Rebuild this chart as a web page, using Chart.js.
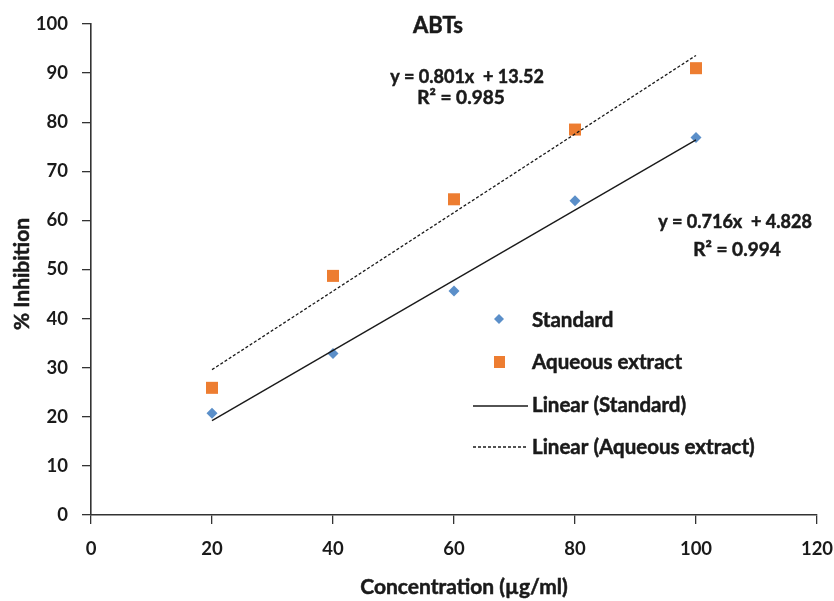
<!DOCTYPE html>
<html>
<head>
<meta charset="utf-8">
<script src="https://cdn.jsdelivr.net/npm/chart.js@4"></script>
<style>
  html, body { margin: 0; padding: 0; background: #fff; }
  #wrap { width: 834px; height: 601px; }
</style>
</head>
<body>
<div id="wrap"><canvas id="myChart" width="834" height="601"></canvas></div>
<script>
const concentrations = [20, 40, 60, 80, 100];
const standardValues = [20.7, 32.9, 45.6, 64.0, 76.9];
const aqueousValues = [25.9, 48.7, 64.3, 78.5, 91.0];

// trendline end points
const trendX = [20, 100];
const standardFit = [19.2, 76.4];
const aqueousFit = [29.6, 93.6];

const xTicks = [0, 20, 40, 60, 80, 100, 120];
const yTicks = [0, 10, 20, 30, 40, 50, 60, 70, 80, 90, 100];

const FONT = "Lato";
const blue = "#5b8fc9";
const orange = "#ed7d31";
const ink = "#1a1a1a";

function pts(xs, ys) {
  return xs.map((x, i) => ({ x: x, y: ys[i] }));
}

// draws text a bit heavier, closer to the bold face of the original
function boldText(ctx, s, x, y) {
  ctx.fillText(s, x, y);
  ctx.strokeText(s, x, y);
}

const textPlugin = {
  id: "texts",
  afterDraw(chart) {
    const ctx = chart.ctx;
    ctx.save();
    ctx.fillStyle = ink;
    ctx.strokeStyle = ink;
    ctx.lineWidth = 0.5;
    ctx.textBaseline = "middle";
    ctx.textAlign = "center";

    ctx.font = "bold 22px " + FONT;
    boldText(ctx, "ABTs", 438, 26);

    ctx.font = "bold 18px " + FONT;
    boldText(ctx, "y = 0.801x  + 13.52", 467, 77);
    boldText(ctx, "y = 0.716x  + 4.828", 735, 222);
    ctx.font = "bold 19px " + FONT;
    boldText(ctx, "R\u00b2 = 0.985", 461, 98);
    boldText(ctx, "R\u00b2 = 0.994", 737, 250);

    // axis titles
    ctx.font = "bold 21px " + FONT;
    boldText(ctx, "Concentration (\u00b5g/ml)", 464, 587);
    ctx.save();
    ctx.translate(22, 274);
    ctx.rotate(-Math.PI / 2);
    boldText(ctx, "% Inhibition", 0, 0);
    ctx.restore();

    // legend
    ctx.font = "bold 20.5px " + FONT;
    ctx.textAlign = "left";
    const tx = 532;
    boldText(ctx, "Standard", tx, 320);
    boldText(ctx, "Aqueous extract", tx, 362);
    boldText(ctx, "Linear (Standard)", tx, 405);
    boldText(ctx, "Linear (Aqueous extract)", tx, 447);

    ctx.fillStyle = blue;
    ctx.beginPath();
    ctx.moveTo(499, 314); ctx.lineTo(504, 319); ctx.lineTo(499, 324); ctx.lineTo(494, 319);
    ctx.closePath();
    ctx.fill();
    ctx.fillStyle = orange;
    ctx.fillRect(494, 356, 11, 12);

    ctx.lineWidth = 1.3;
    ctx.beginPath();
    ctx.moveTo(473, 406); ctx.lineTo(528, 406);
    ctx.stroke();
    ctx.setLineDash([3, 2]);
    ctx.beginPath();
    ctx.moveTo(473, 447); ctx.lineTo(528, 447);
    ctx.stroke();
    ctx.restore();
  }
};

const data = {
  datasets: [
    {
      type: "line",
      label: "Linear (Standard)",
      data: pts(trendX, standardFit),
      borderColor: ink,
      borderWidth: 1.4,
      pointRadius: 0,
      fill: false,
    },
    {
      type: "line",
      label: "Linear (Aqueous extract)",
      data: pts(trendX, aqueousFit),
      borderColor: ink,
      borderWidth: 1.3,
      borderDash: [3, 2],
      pointRadius: 0,
      fill: false,
    },
    {
      type: "scatter",
      label: "Standard",
      data: pts(concentrations, standardValues),
      pointStyle: "rectRot",
      pointRadius: 5.5,
      backgroundColor: blue,
      borderColor: blue,
      borderWidth: 0,
    },
    {
      type: "scatter",
      label: "Aqueous extract",
      data: pts(concentrations, aqueousValues),
      pointStyle: "rect",
      pointRadius: 8.5,
      backgroundColor: orange,
      borderColor: orange,
      borderWidth: 0,
    },
  ],
};

const tickFont = { family: FONT, size: 18.5, weight: "bold" };

const config = {
  type: "scatter",
  data: data,
  options: {
    responsive: false,
    animation: false,
    layout: { padding: { top: 24, right: 17, left: 0, bottom: 0 } },
    plugins: {
      legend: { display: false },
      tooltip: { enabled: false },
    },
    scales: {
      x: {
        type: "linear",
        min: 0,
        max: 120,
        afterBuildTicks: (s) => { s.ticks = xTicks.map((v) => ({ value: v })); },
        afterFit: (s) => { s.height = 86; s.paddingLeft = 0; s.paddingRight = 0; },
        ticks: { font: tickFont, color: ink, padding: 14, maxRotation: 0 },
        grid: { drawOnChartArea: false, drawTicks: true, tickLength: 9, color: "#333", lineWidth: 1.3 },
        border: { display: true, color: "#333", width: 1.6 },
      },
      y: {
        type: "linear",
        min: 0,
        max: 100,
        afterBuildTicks: (s) => { s.ticks = yTicks.map((v) => ({ value: v })); },
        afterFit: (s) => { s.width = 91; s.paddingTop = 0; s.paddingBottom = 0; },
        ticks: { font: tickFont, color: ink, padding: 14 },
        grid: { drawOnChartArea: false, drawTicks: true, tickLength: 9, color: "#333", lineWidth: 1.3 },
        border: { display: true, color: "#333", width: 1.6 },
      },
    },
  },
  plugins: [textPlugin],
};

const myChart = new Chart(document.getElementById("myChart"), config);
</script>
</body>
</html>
